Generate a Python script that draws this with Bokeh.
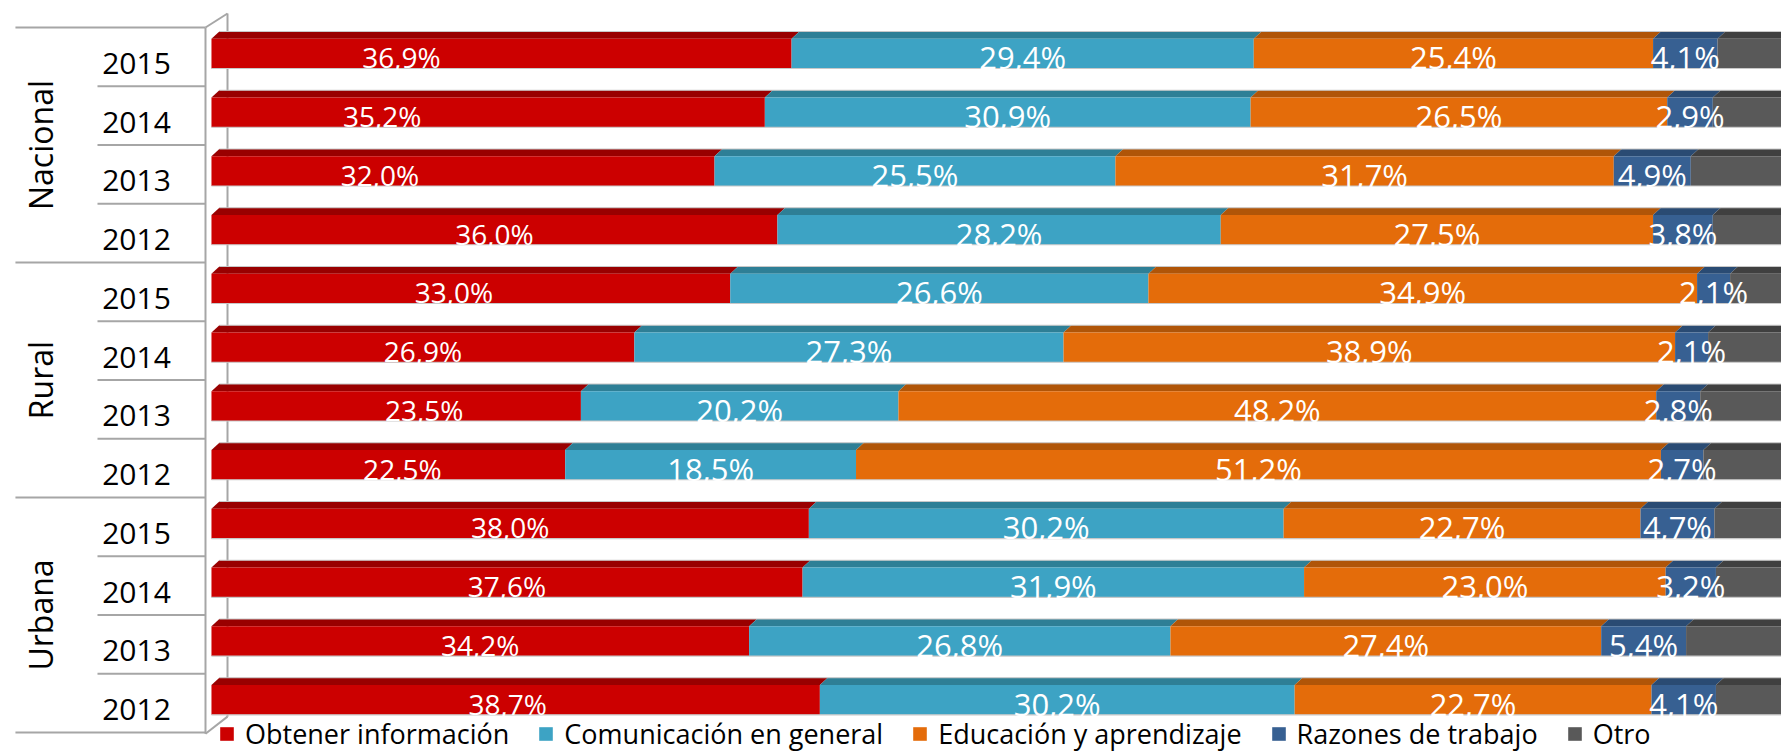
import numpy as np
from bokeh.plotting import figure
from bokeh.models import Range1d, Legend, LegendItem, ColumnDataSource
from bokeh.core.properties import value
from bokeh.embed import file_html
from bokeh.resources import INLINE

# ---------------- data ----------------
groups = ["Nacional", "Rural", "Urbana"]
years = ["2015", "2014", "2013", "2012"]
series_names = ["Obtener información", "Comunicación en general",
                "Educación y aprendizaje", "Razones de trabajo", "Otro"]
obtener = [36.9, 35.2, 32.0, 36.0, 33.0, 26.9, 23.5, 22.5, 38.0, 37.6, 34.2, 38.7]
comunicacion = [29.4, 30.9, 25.5, 28.2, 26.6, 27.3, 20.2, 18.5, 30.2, 31.9, 26.8, 30.2]
educacion = [25.4, 26.5, 31.7, 27.5, 34.9, 38.9, 48.2, 51.2, 22.7, 23.0, 27.4, 22.7]
trabajo = [4.1, 2.9, 4.9, 3.8, 2.1, 2.1, 2.8, 2.7, 4.7, 3.2, 5.4, 4.1]
otro = [4.2, 4.5, 5.9, 4.5, 3.4, 4.8, 5.3, 5.1, 4.4, 4.3, 6.2, 4.3]

# ---------------- style ----------------
front_colors = ["#CC0000", "#3DA3C4", "#E46C0A", "#376092", "#595959"]
top_colors = ["#990000", "#2E7F96", "#B05508", "#2A4B73", "#404040"]
show_label = [True, True, True, True, False]
label_sizes = ["28px", "31px", "31px", "31px", "31px"]
# screen-pixel nudges of the first series' labels (as placed in the original)
first_label_nudge_px = [-100, -106, -83, 0, -17, 0, 28, 14, 0, 0, 0, -8]
FONT = "Open Sans"
BAR_TOP, FACE_TOP, BAR_BOT = 0.068, 0.19, 0.698
LABEL_Y = 0.51
DX = 0.5          # depth offset of the top face (data units)
LINE = "#A6A6A6"

series = [obtener, comunicacion, educacion, trabajo, otro]
n_rows = len(groups) * len(years)
rows = np.arange(n_rows)

W, H = 1781, 752
p = figure(width=W, height=H, output_backend="svg", toolbar_location=None,
           x_range=Range1d(-13.42, 99.87), y_range=Range1d(12.34, -0.4596),
           x_axis_type=None, y_axis_type=None,
           min_border_left=0, min_border_right=0, min_border_top=0, min_border_bottom=0)
p.outline_line_color = None
p.grid.visible = False
p.background_fill_color = "white"
p.border_fill_color = "white"

# ----- category axis lines & 3D wall -----
short_y = [k for k in range(1, n_rows) if k % len(years) != 0]
long_y = [k for k in range(0, n_rows + 1) if k % len(years) == 0]
p.segment(x0=[-7.25] * len(short_y), x1=[-0.38] * len(short_y), y0=short_y, y1=short_y,
          line_color=LINE, line_width=2)
p.segment(x0=[-12.47] * len(long_y), x1=[-0.38] * len(long_y), y0=long_y, y1=long_y,
          line_color=LINE, line_width=2)
# wall: front edge, back edge, top and bottom slants
p.segment(x0=[-0.38, 1.02, -0.38, -0.38], x1=[-0.38, 1.02, 1.02, 1.02],
          y0=[0, -0.238, 0, n_rows + 0.02], y1=[n_rows + 0.02, n_rows - 0.27, -0.238, n_rows - 0.27],
          line_color=LINE, line_width=2)

# ----- bars -----
cum = np.zeros(n_rows)
legend_items = []
for i, vals in enumerate(series):
    v = np.array(vals, dtype=float)
    x0 = cum.copy()
    x1 = cum + v
    # top face (parallelogram)
    xs = [[a, b, b + DX, a + DX] for a, b in zip(x0, x1)]
    ys = [[k + FACE_TOP, k + FACE_TOP, k + BAR_TOP, k + BAR_TOP] for k in rows]
    p.patches(xs=xs, ys=ys, fill_color=top_colors[i], line_color=None)
    # front face
    r = p.quad(left=x0, right=x1, top=rows + FACE_TOP, bottom=rows + BAR_BOT,
               fill_color=front_colors[i], line_color=None)
    legend_items.append(LegendItem(label=series_names[i], renderers=[r]))
    cum = x1

# thin outline of bars
p.segment(x0=[DX] * n_rows, x1=[100 + DX] * n_rows, y0=rows + BAR_TOP, y1=rows + BAR_TOP,
          line_color="#C8C8C8", line_width=1.2)
p.segment(x0=[0] * n_rows, x1=[100] * n_rows, y0=rows + BAR_BOT, y1=rows + BAR_BOT,
          line_color="#C8C8C8", line_width=1.2)

# ----- value labels -----
cum = np.zeros(n_rows)
for i, vals in enumerate(series):
    v = np.array(vals, dtype=float)
    if show_label[i]:
        src = ColumnDataSource(dict(
            x=cum + v / 2, y=rows + LABEL_Y,
            dx=first_label_nudge_px if i == 0 else [0] * n_rows,
            t=[f"{val:.1f}".replace(".", ",") + "%" for val in v]))
        p.text(x="x", y="y", text="t", source=src, x_offset="dx", text_color="white",
               text_font=value(FONT), text_font_size=label_sizes[i],
               text_align="center", text_baseline="middle")
    cum = cum + v

# ----- category labels -----
year_src = ColumnDataSource(dict(x=[-4.77] * n_rows, y=rows + 0.61,
                                 t=[years[k % len(years)] for k in rows]))
p.text(x="x", y="y", text="t", source=year_src, text_color="black",
       text_font=value(FONT), text_font_size="30px",
       text_align="center", text_baseline="middle")
grp_src = ColumnDataSource(dict(x=[-10.88] * len(groups),
                                y=[g * len(years) + len(years) / 2 for g in range(len(groups))],
                                t=groups))
p.text(x="x", y="y", text="t", source=grp_src, text_color="black", angle=np.pi / 2,
       text_font=value(FONT), text_font_size="32px",
       text_align="center", text_baseline="middle")

# ----- legend -----
legend = Legend(items=legend_items, orientation="horizontal", location=(218, 0),
                label_text_font=FONT, label_text_font_size="27px",
                label_text_color="black", glyph_width=17, glyph_height=17,
                label_standoff=10, spacing=28, padding=0, margin=0,
                border_line_color=None, background_fill_alpha=0)
p.add_layout(legend)

open("out.html", "w").write(file_html(p, INLINE))
